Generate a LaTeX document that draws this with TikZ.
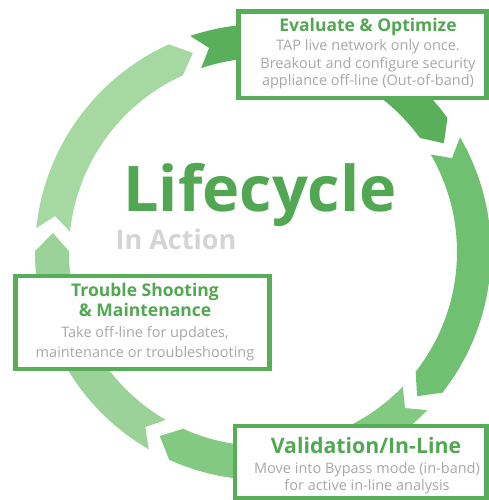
\documentclass[tikz,border=0pt]{standalone}
\usepackage{fontspec}
\setmainfont{Open Sans}
\definecolor{segA}{HTML}{A6D8A1}
\definecolor{segB}{HTML}{5AAF5A}
\definecolor{segC}{HTML}{70C071}
\definecolor{segD}{HTML}{82CA82}
\definecolor{segE}{HTML}{9BD297}
\definecolor{boxgreen}{HTML}{58AE58}
\definecolor{titlegreen}{HTML}{52A852}
\definecolor{graytext}{HTML}{A8A8A8}
\definecolor{lightgray}{HTML}{D4D4D4}
% ring segment: tail angle, head tip angle, colour
\newcommand{\ringseg}[3]{%
  \pgfmathsetmacro\rsA{#1}%
  \pgfmathsetmacro\rsB{#2}%
  \pgfmathsetmacro\rsBh{#2+5}%
  \pgfmathsetmacro\rsAn{#1-3.8}%
  \fill[#3] (\rsA:228pt) arc[start angle=\rsA, end angle=\rsBh, radius=228pt]
    -- (\rsB:211pt) -- (\rsBh:194pt)
    arc[start angle=\rsBh, end angle=\rsA, radius=194pt]
    -- (\rsAn:211pt) -- cycle;}
\begin{document}
\begin{tikzpicture}[x=1pt,y=1pt,
  box/.style={draw=boxgreen, line width=4.5pt, fill=white, inner sep=0pt, outer sep=0pt},
  ttl/.style={anchor=base, text=titlegreen, inner sep=0pt, font=\bfseries\fontsize{17.5}{20}\selectfont},
  bigttl/.style={ttl, font=\bfseries\fontsize{21.3}{24}\selectfont},
  bodytext/.style={anchor=base, text=graytext, inner sep=0pt, font=\fontsize{14.5}{17}\selectfont},
]
\useasboundingbox (0,0) rectangle (489,-500);
% ring of arrows
\begin{scope}[shift={(263pt,-252pt)}]
  \ringseg{174}{109.4}{segA}
  \ringseg{108.6}{31}{segB}
  \ringseg{30.2}{-43.1}{segC}
  \ringseg{-43.9}{-119.3}{segD}
  \ringseg{239.9}{174.8}{segE}
\end{scope}
% centre text
\node[anchor=base, text=titlegreen, inner sep=0pt, font=\bfseries\fontsize{63}{70}\selectfont] (life) at (260,-211) {Lifecycle};
\node[anchor=base, text=lightgray, inner sep=0pt, font=\bfseries\fontsize{27}{30}\selectfont] (inaction) at (176,-249.3) {In Action};
% Evaluate box
\node[box, minimum width=248pt, minimum height=86.3pt] (evalbox) at (362.5,-54.85) {};
\node[ttl] (evalttl) at (368,-31.7) {Evaluate \& Optimize};
\node[bodytext] (evala) at (368,-50.7) {TAP live network only once.};
\node[bodytext] (evalb) at (368,-68.3) {Breakout and configure security};
\node[bodytext] (evalc) at (368,-86) {appliance off-line (Out-of-band)};
% Trouble box
\node[box, minimum width=254pt, minimum height=93pt] (troubox) at (142.5,-322.5) {};
\node[ttl] (troua) at (145,-296.7) {Trouble Shooting};
\node[ttl] (troub) at (145,-316.7) {\& Maintenance};
\node[bodytext] (trouc) at (145,-337.3) {Take off-line for updates,};
\node[bodytext] (troud) at (145,-357.3) {maintenance or troubleshooting};
% Validation box
\node[box, minimum width=251.5pt, minimum height=72.5pt] (valbox) at (360.75,-462.25) {};
\node[bigttl] (valttl) at (366,-453) {Validation/In-Line};
\node[bodytext] (vala) at (367,-473) {Move into Bypass mode (in-band)};
\node[bodytext] (valb) at (367,-490) {for active in-line analysis};
\end{tikzpicture}
\end{document}
